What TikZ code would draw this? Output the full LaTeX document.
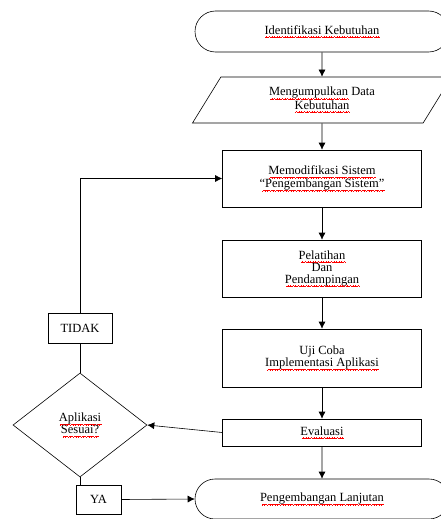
\documentclass[tikz,border=0pt]{standalone}
\usepackage{fontspec}
\setmainfont{Liberation Serif}
\usetikzlibrary{shapes.geometric,shapes.misc,arrows.meta}
\newsavebox{\sqbox}
\newcommand{\wv}{\hbox{\rule[-3.6pt]{0.65pt}{0.45pt}\rule[-3.1pt]{0.65pt}{0.45pt}\rule[-2.6pt]{0.65pt}{0.45pt}\rule[-3.1pt]{0.65pt}{0.45pt}}}
\newcommand{\sq}[1]{\sbox{\sqbox}{#1}\usebox{\sqbox}\llap{\color{red}\leaders\wv\hskip\wd\sqbox}}

\begin{document}
\begin{tikzpicture}[x=1pt,y=-1pt,font=\fontsize{12.5}{12}\selectfont,line width=0.6pt,
    box/.style={draw,minimum width=199pt,align=center,inner sep=0pt},
    term/.style={draw,rounded rectangle,minimum width=254pt,inner sep=0pt},
    ket/.style={draw,minimum height=29pt,inner sep=0pt},
    arr/.style={-{Latex[length=7pt,width=7pt]}}]
    \useasboundingbox (0,0) rectangle (441,519);
    \node[term,minimum height=41pt] (mulai) at (322,31.5) {\sq{Identifikasi Kebutuhan}};
    \node[draw,trapezium,trapezium left angle=42,trapezium right angle=138,trapezium stretches body,
        minimum width=259pt,minimum height=46pt,inner sep=0pt,align=center] (data) at (322,100)
        {\sq{Mengumpulkan} Data\\\sq{Kebutuhan}};
    \node[box,minimum height=57pt] (modif) at (322,178.5) {\sq{Memodifikasi Sistem}\\\sq{“Pengembangan Sistem”}};
    \node[box,minimum height=57pt] (latih) at (322,268.5) {\sq{Pelatihan}\\Dan\\\sq{Pendampingan}};
    \node[box,minimum height=58pt] (uji) at (322,358) {Uji Coba\\\sq{Implementasi Aplikasi}};
    \node[box,minimum height=27pt] (eval) at (322,432.5) {\sq{Evaluasi}};
    \node[term,minimum height=40pt] (akhir) at (322,499) {\sq{Pengembangan Lanjutan}};
    \node[draw,diamond,aspect=1.29,minimum width=134pt,minimum height=104pt,inner sep=0pt,align=center] (cek) at (80,425)
        {\sq{Aplikasi}\\\sq{Sesuai?}};
    \node[ket,minimum width=64pt,minimum height=30pt] (tidak) at (80,328) {TIDAK};
    \node[ket,minimum width=45pt] (ya) at (98.5,499.5) {YA};
    \foreach \A/\B in {mulai/data,data/modif,modif/latih,latih/uji,uji/eval,eval/akhir}
    {\draw[arr] (\A) -- (\B);}
    \draw[arr] (eval.west) -- (cek.east);
    \draw (cek.north) -- (tidak.south);
    \draw[arr] (tidak.north) |- (modif.west);
    \draw (cek.south) -- (cek.south |- ya.north);
    \draw[arr] (ya.east) -- (akhir.west);
\end{tikzpicture}
\end{document}
